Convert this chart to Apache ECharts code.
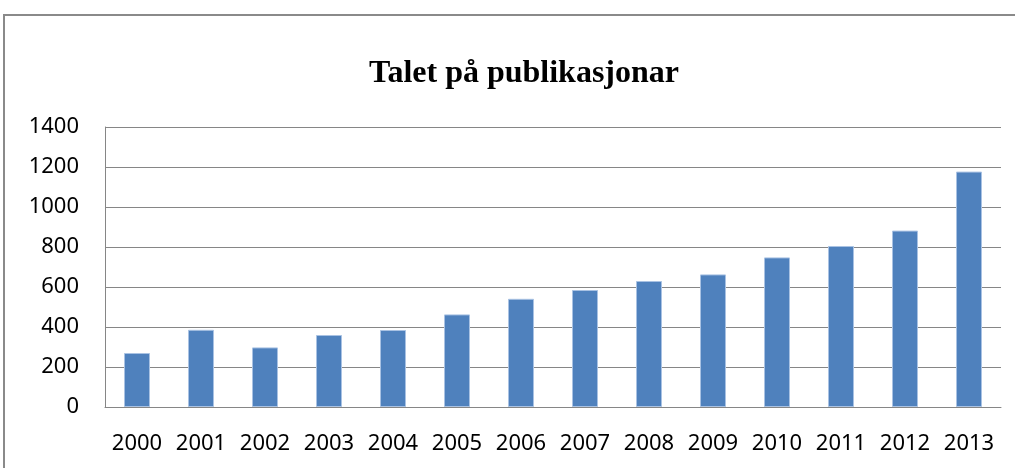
<!DOCTYPE html>
<html>
<head>
<meta charset="utf-8">
<script src="https://cdn.jsdelivr.net/npm/echarts@6/dist/echarts.min.js"></script>
<style>
  html, body { margin: 0; padding: 0; background: #fff; }
  #chart { width: 1015px; height: 468px; }
</style>
</head>
<body>
<div id="chart"></div>
<script>
var years = ['2000', '2001', '2002', '2003', '2004', '2005', '2006',
             '2007', '2008', '2009', '2010', '2011', '2012', '2013'];
var publications = [270, 386, 298, 360, 385, 463, 541, 585, 630, 663, 748, 805, 882, 1177];

var myChart = echarts.init(document.getElementById('chart'));
var option = {
    backgroundColor: '#fff',
    animation: false,
    title: {
        text: 'Talet på publikasjonar',
        left: 519,
        top: 53,
        textAlign: 'center',
        textStyle: {
            fontFamily: 'Liberation Serif',
            fontWeight: 'bold',
            fontSize: 32,
            color: '#000'
        }
    },
    graphic: [{
        type: 'rect',
        shape: { x: 4, y: 15, width: 1100, height: 600 },
        style: { fill: 'none', stroke: '#8a8a8a', lineWidth: 2 },
        silent: true
    }],
    grid: { left: 105, right: 14, top: 127, bottom: 61 },
    xAxis: {
        type: 'category',
        data: years,
        axisLine: { lineStyle: { color: '#868686', width: 1 } },
        axisTick: { show: false },
        axisLabel: {
            interval: 0,
            hideOverlap: false,
            margin: 26,
            color: '#000',
            fontFamily: 'Noto Sans',
            fontSize: 22
        }
    },
    yAxis: {
        type: 'value',
        min: 0,
        max: 1400,
        interval: 200,
        axisLine: { show: true, lineStyle: { color: '#868686', width: 1 } },
        axisTick: { show: false },
        splitLine: { lineStyle: { color: '#868686', width: 1 } },
        axisLabel: {
            margin: 26,
            color: '#000',
            fontFamily: 'Noto Sans',
            fontSize: 22,
            formatter: function (v) { return String(v); }
        }
    },
    series: [{
        type: 'bar',
        data: publications,
        barWidth: 26,
        itemStyle: {
            color: '#4F81BD',
            borderColor: '#a9c2e3',
            borderWidth: 1
        }
    }]
};
myChart.setOption(option);
</script>
</body>
</html>
